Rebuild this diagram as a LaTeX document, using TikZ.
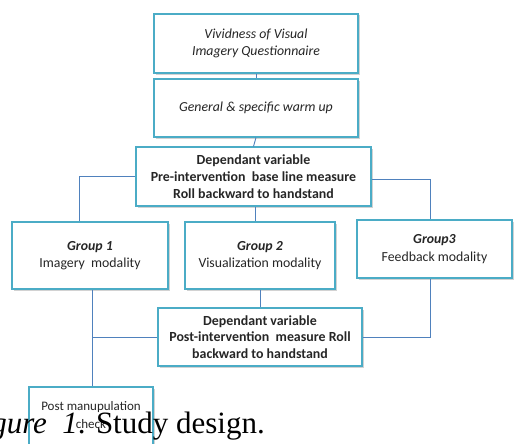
\documentclass[tikz,border=0pt]{standalone}
\usepackage{fontspec}
\setmainfont{Carlito}
\newfontfamily\capfont{Liberation Serif}
\usetikzlibrary{shadows}
\definecolor{boxc}{HTML}{4BACC6}
\definecolor{linec}{HTML}{4F81BD}
\tikzset{
  box/.style={draw=boxc, line width=1.1pt, fill=white, rectangle, align=center,
    font=\fontsize{13.8}{17.5}\selectfont, text=black!85, inner sep=2pt,
    drop shadow={shadow xshift=1.5pt, shadow yshift=-1.5pt, fill=black!35, opacity=0.5}},
  boldbox/.style={box, font=\fontsize{13.9}{16.8}\selectfont\bfseries},
  conn/.style={draw=linec, line width=0.9pt}
}
\begin{document}
\begin{tikzpicture}[x=1pt,y=-1pt]
\useasboundingbox (0,0) rectangle (519,444);
\clip (0,0) rectangle (519,444);
\node[box, minimum width=204, minimum height=59] (b1) at (256,43.5)
  {\itshape Vividness of Visual\\\itshape Imagery Questionnaire};
\node[box, minimum width=204, minimum height=58] (b2) at (256,108)
  {\itshape General \& specific warm up};
\node[boldbox, minimum width=235, minimum height=59] (b3) at (253.5,176.5)
  {Dependant variable\\Pre-intervention\ \ base line measure\\Roll backward to handstand};
\node[box, minimum width=156, minimum height=67] (g1) at (90,255.5)
  {\textbf{\itshape Group 1}\\Imagery\ \ modality};
\node[box, minimum width=150, minimum height=67] (g2) at (260,255.5)
  {\textbf{\itshape Group 2}\\Visualization modality};
\node[box, minimum width=155, minimum height=58] (g3) at (434.5,249)
  {\textbf{\itshape Group3}\\Feedback modality};
\node[boldbox, minimum width=204, minimum height=58] (post) at (260,337)
  {Dependant variable\\Post-intervention\ \ measure Roll\\backward to handstand};
\node[box, minimum width=124, minimum height=73] (pm) at (91,423.5) {};
\node[align=center, font=\fontsize{13}{17.5}\selectfont, text=black!85] (pmt) at (91,415)
  {Post manupulation\\check};
% connectors
\draw[conn] (b1.south) -- (b2.north);
\draw[conn] (b2.south) -- (b3.north);
\draw[conn] (b3.west) -| ([xshift=-11pt]g1.north);
\draw[conn] ([yshift=-2.5pt]b3.east) -| ([xshift=-4.5pt]g3.north);
\draw[conn] ([xshift=1.5pt]b3.south) -- ([xshift=1.5pt]b3.south |- g2.north);
\draw[conn] (g2.south) -- (post.north);
\draw[conn] ([xshift=2pt]g1.south) -- ([xshift=2pt]g1.south |- pm.north);
\draw[conn] (post.west) -- ([xshift=2pt]post.west -| g1.south);
\draw[conn] (post.east) -| ([xshift=-4.5pt]g3.south);
% caption
\node[anchor=base east, inner sep=0pt, font=\capfont\fontsize{31}{36}\selectfont] (cap) at (265,433)
  {\textit{Figure\ \ 1}. Study design.};
\end{tikzpicture}
\end{document}
